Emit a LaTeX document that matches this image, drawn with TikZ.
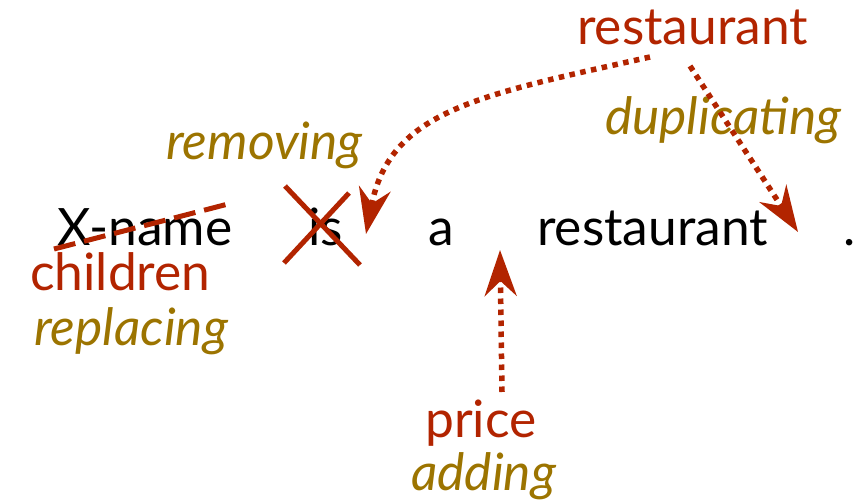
\documentclass[tikz,border=0pt]{standalone}
\usepackage{fontspec}
\setmainfont{Lato}
\usetikzlibrary{arrows.meta}
\definecolor{tred}{RGB}{178,36,0}
\definecolor{tgold}{RGB}{156,116,0}
\begin{document}
\begin{tikzpicture}[x=1pt,y=-1pt,
  word/.style={anchor=base west,inner sep=0pt,font=\fontsize{51.5}{60}\selectfont},
  redword/.style={word,text=tred},
  goldword/.style={word,text=tgold,font=\fontsize{51.5}{60}\selectfont\itshape},
  dotline/.style={draw=tred,line width=5.5pt,dash pattern=on 5.5pt off 5.5pt},
  tip/.style={-{Stealth[length=46pt,width=32pt,inset=15pt]}},
  strike/.style={draw=tred,line width=5pt}]
\useasboundingbox (0,0) rectangle (859,500);
% sentence
\node[word] (w1) at (57,245) {X-name};
\node[word] (w2) at (308,245) {is};
\node[word] (w3) at (428,245) {a};
\node[word] (w4) at (537,245) {restaurant};
\node[word] (w5) at (843,245) {.};
% labels
\node[redword] (r1) at (577,45) {restaurant};
\node[goldword] (g1) at (605,135) {duplicating};
\node[goldword] (g2) at (166,160) {removing};
\node[redword] (r2) at (30,290) {children};
\node[goldword] (g3) at (34,345) {replacing};
\node[redword] (r3) at (425,437) {price};
\node[goldword] (g4) at (411,490) {adding};
% endpoints
\coordinate (a1s) at (650,57);
\coordinate (a1e) at (366,234);
\coordinate (a2s) at (690,66);
\coordinate (a2e) at (798,232);
\coordinate (a3s) at (502,392);
\coordinate (a3e) at (500,250);
\coordinate (d1) at (54,249);
\coordinate (d2) at (232,203);
\coordinate (x1) at (285,186);
\coordinate (x2) at (360,265);
\coordinate (x3) at (349,193);
\coordinate (x4) at (284,263);
% connectors
\draw[dotline,tip] (a1s) .. controls (480,95) and (390,110) .. (a1e);
\draw[dotline,tip] (a2s) -- (a2e);
\draw[dotline,tip] (a3s) -- (a3e);
\draw[draw=tred,line width=5pt,dash pattern=on 22pt off 9pt] (d1) -- (d2);
\draw[strike] (x1) -- (x2);
\draw[strike] (x3) -- (x4);
\end{tikzpicture}
\end{document}
